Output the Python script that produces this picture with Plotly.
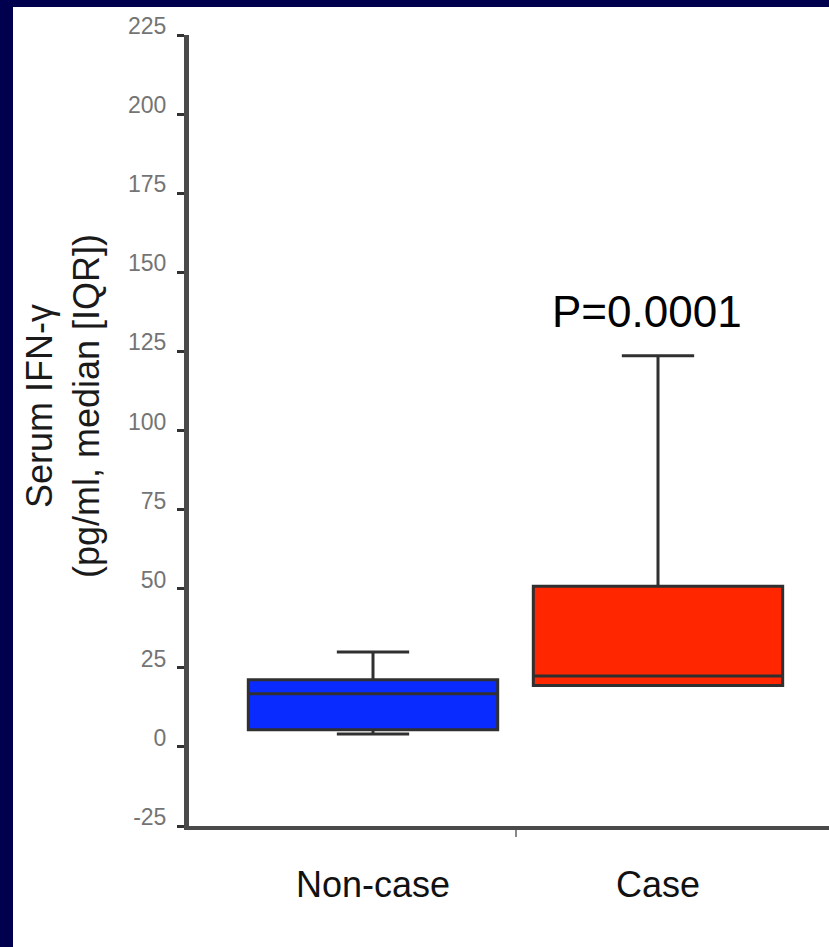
import plotly.graph_objects as go

# ---- data ----
categories = ["Non-case", "Case"]
cat_pos = [0, 1]
q1 = [5.4, 19.4]
median = [16.8, 22.4]
q3 = [21.2, 50.8]
lower_whisker = [4.1, 19.4]
upper_whisker = [30.0, 123.6]
fill_colors = ["#0A2BFF", "#FF2600"]
y_ticks = [-25, 0, 25, 50, 75, 100, 125, 150, 175, 200, 225]
y_ticktext = [str(v) for v in y_ticks]
p_label = "P=0.0001"
y_title = "Serum IFN-γ<br>(pg/ml, median [IQR])"

W, H = 829, 947
ML, MR, MT, MB = 189, 0, 35, 121
pw = W - ML - MR
ph = H - MT - MB


def px_to_paper_x(px):
    return (px - ML) / pw


def px_to_paper_y(py):
    return (H - MB - py) / ph


fig = go.Figure()

for i, cat in enumerate(categories):
    fig.add_trace(go.Box(
        x=[cat_pos[i]],
        q1=[q1[i]], median=[median[i]], q3=[q3[i]],
        lowerfence=[lower_whisker[i]], upperfence=[upper_whisker[i]],
        name=cat,
        width=0.875,
        whiskerwidth=0.29,
        fillcolor=fill_colors[i],
        line=dict(color="#303030", width=3),
        boxpoints=False,
        showlegend=False,
        hoverinfo="skip",
    ))

# dotted zero reference line
fig.add_hline(y=0, line=dict(color="#222", width=3, dash="dot"), layer="below")

fig.add_annotation(x=cat_pos[1] - 0.04, y=137.5, text=p_label, showarrow=False,
                   font=dict(family="Liberation Sans, Arial", size=44, color="black"),
                   xanchor="center", yanchor="middle")

# y-axis title as rotated text
fig.add_annotation(xref="paper", yref="paper",
                   x=px_to_paper_x(63), y=px_to_paper_y(406),
                   text=y_title, textangle=-90, showarrow=False,
                   font=dict(family="Liberation Sans, Arial", size=36, color="#1a1a1a"),
                   xanchor="center", yanchor="middle")

# white panel inside the navy frame
fig.add_shape(type="rect", xref="paper", yref="paper",
              x0=px_to_paper_x(13), x1=px_to_paper_x(W + 5),
              y0=px_to_paper_y(H + 5), y1=px_to_paper_y(7),
              fillcolor="white", line=dict(width=0), layer="below")

fig.update_layout(
    width=W, height=H,
    margin=dict(l=ML, r=MR, t=MT, b=MB, pad=0),
    paper_bgcolor="#00004E",
    plot_bgcolor="rgba(0,0,0,0)",
    font=dict(family="Liberation Sans, Arial"),
)

fig.update_xaxes(
    range=[-(373 - ML) / 285, -(373 - ML) / 285 + pw / 285],
    tickmode="array", tickvals=cat_pos, ticktext=categories,
    ticks="", ticklabelstandoff=24,
    tickfont=dict(size=36, color="#111"),
    showline=True, linecolor="#4a4a4a", linewidth=4,
    showgrid=False, zeroline=False,
    minor=dict(tickvals=[0.5], ticks="outside", ticklen=7, tickwidth=2, tickcolor="#888"),
)

fig.update_yaxes(
    range=[-25, 225],
    tickmode="array", tickvals=y_ticks, ticktext=y_ticktext,
    ticks="outside", ticklen=7, tickwidth=3, tickcolor="#333",
    tickfont=dict(size=23, color="#747474"),
    ticklabelstandoff=6, ticklabelshift=-9,
    showline=True, linecolor="#4a4a4a", linewidth=5,
    showgrid=False, zeroline=False,
)

fig.write_html("out.html", config={"displayModeBar": False},
               post_script="document.body.style.margin='0';document.body.style.overflow='hidden';")
